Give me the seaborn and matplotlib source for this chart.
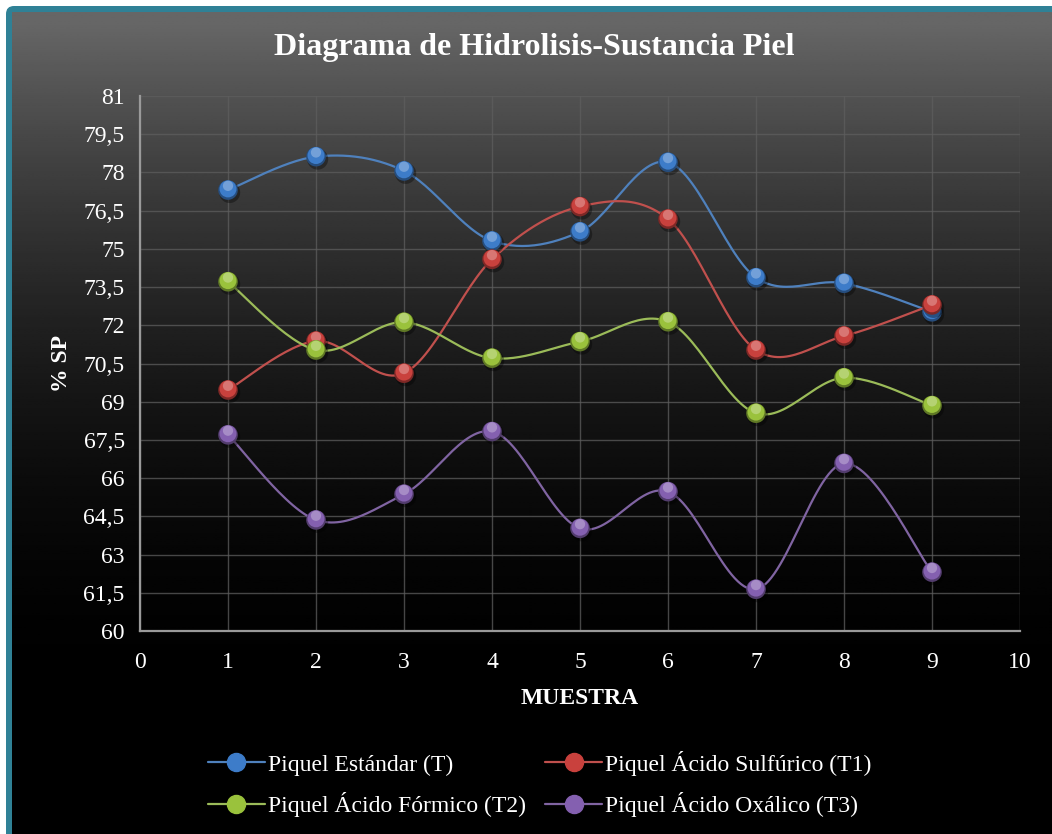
import numpy as np
import pandas as pd
import matplotlib
matplotlib.use("Agg")
import matplotlib.pyplot as plt
from matplotlib.lines import Line2D
from matplotlib.patches import FancyBboxPatch
from matplotlib.transforms import offset_copy
import matplotlib.colors as mcolors
import seaborn as sns

# ---------------- data ----------------
muestra = [1, 2, 3, 4, 5, 6, 7, 8, 9]
estandar = [77.31, 78.62, 78.06, 75.31, 75.67, 78.40, 73.87, 73.65, 72.53]
sulfurico = [69.46, 71.38, 70.12, 74.59, 76.66, 76.17, 71.03, 71.58, 72.80]
formico = [73.71, 71.03, 72.12, 70.71, 71.36, 72.14, 68.55, 69.94, 68.85]
oxalico = [67.70, 64.36, 65.37, 67.83, 64.03, 65.47, 61.64, 66.58, 62.31]
series_names = ["Piquel Estándar (T)", "Piquel Ácido Sulfúrico (T1)",
                "Piquel Ácido Fórmico (T2)", "Piquel Ácido Oxálico (T3)"]
y_ticks = [60, 61.5, 63, 64.5, 66, 67.5, 69, 70.5, 72, 73.5, 75, 76.5, 78, 79.5, 81]
x_ticks = [0, 1, 2, 3, 4, 5, 6, 7, 8, 9, 10]

line_colors = ["#4f81bd", "#c0504d", "#9bbb59", "#8064a2"]
ball_colors = ["#3d7cc9", "#c9413d", "#9ac23c", "#8460b0"]

df = pd.DataFrame({
    "muestra": muestra * 4,
    "sp": estandar + sulfurico + formico + oxalico,
    "serie": sum([[n] * len(muestra) for n in series_names], []),
})


def smooth(xs, ys, n=30):
    """Excel-style smoothed line (Bezier with 1/6 tangent handles)."""
    P = np.column_stack([xs, ys]).astype(float)
    Pe = np.vstack([P[0], P, P[-1]])
    out = []
    t = np.linspace(0, 1, n)[:, None]
    for i in range(len(P) - 1):
        p0, p1, p2, p3 = Pe[i], Pe[i + 1], Pe[i + 2], Pe[i + 3]
        c1 = p1 + (p2 - p0) / 6.0
        c2 = p2 - (p3 - p1) / 6.0
        seg = ((1 - t) ** 3) * p1 + 3 * ((1 - t) ** 2) * t * c1 + 3 * (1 - t) * t ** 2 * c2 + t ** 3 * p2
        out.append(seg if i == 0 else seg[1:])
    out = np.vstack(out)
    return out[:, 0], out[:, 1]


sns.set_theme(style="dark")
plt.rcParams["font.family"] = ["Liberation Serif", "DejaVu Serif"]

W, H = 1052, 834
fig = plt.figure(figsize=(W / 100, H / 100), dpi=100)
fig.patch.set_facecolor("white")

# background gradient + teal frame
bg = fig.add_axes([0, 0, 1, 1], zorder=-10)
bg.set_xlim(0, W)
bg.set_ylim(H, 0)
bg.axis("off")
yy = np.linspace(0, 1, 400)[:, None]
tt = np.clip((yy * H - 12) / 700.0, 0, 1)
vals = 0.40 * (1 - tt) ** 2
img = np.repeat(vals, 2, axis=1)
frame = FancyBboxPatch((6, 6), W + 40, H + 40, boxstyle="round,pad=0,rounding_size=8",
                       facecolor="#2f8196", edgecolor="none", zorder=0)
bg.add_patch(frame)
bg.imshow(img, cmap="gray", vmin=0, vmax=1, extent=[12, W, H, 12], aspect="auto", zorder=1)

# main axes
ax = fig.add_axes([140 / W, 1 - 631 / H, 880 / W, 535 / H])
ax.set_facecolor("none")

for i, name in enumerate(series_names):
    sub = df[df["serie"] == name]
    sx, sy = smooth(sub["muestra"].values, sub["sp"].values)
    sns.lineplot(x=sx, y=sy, ax=ax, color=line_colors[i], lw=1.6, sort=False,
                 estimator=None, zorder=3 + i * 0.1)

# spherical markers (layered circles)
for i, name in enumerate(series_names):
    sub = df[df["serie"] == name]
    base = np.array(mcolors.to_rgb(ball_colors[i]))
    dark = base * 0.62
    light = base + (1 - base) * 0.35
    zo = 5 + i * 0.1
    sns.scatterplot(data=sub, x="muestra", y="sp", ax=ax, s=230, color="black", alpha=0.35,
                    edgecolor="none", zorder=zo, legend=False,
                    transform=offset_copy(ax.transData, fig=fig, x=1.2, y=-1.8, units="points"))
    sns.scatterplot(data=sub, x="muestra", y="sp", ax=ax, s=200, color=dark,
                    edgecolor="none", zorder=zo + 0.01, legend=False)
    sns.scatterplot(data=sub, x="muestra", y="sp", ax=ax, s=150, color=base,
                    edgecolor="none", zorder=zo + 0.02, legend=False,
                    transform=offset_copy(ax.transData, fig=fig, x=0, y=0.8, units="points"))
    sns.scatterplot(data=sub, x="muestra", y="sp", ax=ax, s=55, color=light, alpha=0.8,
                    edgecolor="none", zorder=zo + 0.03, legend=False,
                    transform=offset_copy(ax.transData, fig=fig, x=0, y=3.0, units="points"))

ax.set_xlim(0, 10)
ax.set_ylim(60, 81)
ax.set_xticks(x_ticks)
ax.set_yticks(y_ticks)
ax.set_xticklabels([str(v) for v in x_ticks])
ax.set_yticklabels([(f"{v:g}").replace(".", ",") for v in y_ticks])
ax.grid(True, color="#5e5e5e", lw=1.0, alpha=0.75)
ax.set_axisbelow(True)
for s in ["top", "right"]:
    ax.spines[s].set_visible(False)
for s in ["left", "bottom"]:
    ax.spines[s].set_visible(True)
    ax.spines[s].set_color("#9a9a9a")
    ax.spines[s].set_linewidth(1.6)
ax.tick_params(axis="both", colors="white", labelsize=17, length=0, pad=11)
ax.tick_params(axis="x", pad=15)
ax.set_xlabel("MUESTRA", color="white", fontsize=17, fontweight="bold", labelpad=11)
ax.set_ylabel("% SP", color="white", fontsize=17, fontweight="bold", labelpad=8)

fig.text(534 / W, 1 - 48 / H, "Diagrama de Hidrolisis-Sustancia Piel", color="white",
         fontsize=23, fontweight="bold", ha="center", va="center")

order = [0, 2, 1, 3]  # row-wise reading order like the reference
handles = [Line2D([0], [0], color=line_colors[i], lw=1.6, marker="o", markersize=13,
                  markerfacecolor=ball_colors[i], markeredgecolor=ball_colors[i])
           for i in order]
labels = [series_names[i] for i in order]
fig.legend(handles, labels, loc="center", ncol=2, frameon=False,
           bbox_to_anchor=(540 / W, 1 - 784 / H), fontsize=17,
           labelcolor="white", handlelength=2.4, handletextpad=0.15,
           columnspacing=0.8, labelspacing=0.7)

fig.savefig("out.png", dpi=100)
